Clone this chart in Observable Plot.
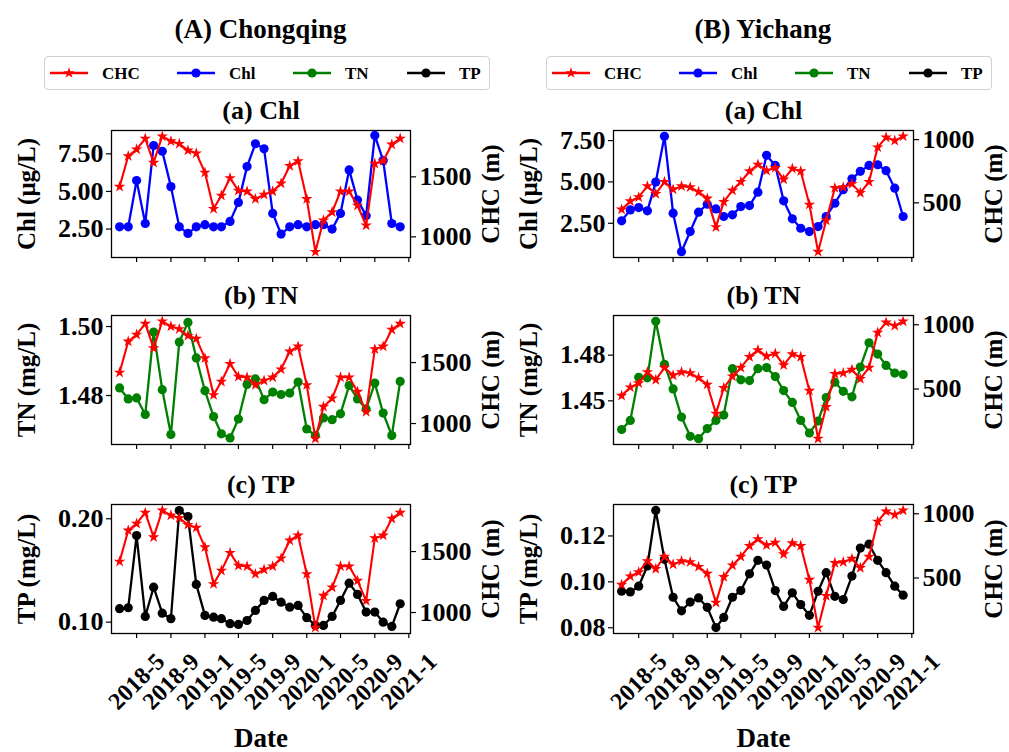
<!DOCTYPE html>
<html><head><meta charset="utf-8">
<script src="https://cdn.jsdelivr.net/npm/d3@7"></script>
<script src="https://cdn.jsdelivr.net/npm/@observablehq/plot@0.6"></script>
<style>
body{margin:0;background:#fff;}
#root{position:relative;width:1009px;height:752px;overflow:hidden;font-family:"Liberation Serif","Times New Roman",serif;font-weight:bold;color:#000;}
.title{position:absolute;font-size:27px;transform:translate(-50%,-50%);white-space:nowrap;}
.legend{position:absolute;top:56px;width:446px;height:34px;border:1px solid #d0d0d0;border-radius:4px;box-sizing:border-box;}
</style></head><body><div id="root"></div>
<script>
const months = ["2018-03","2018-04","2018-05","2018-06","2018-07","2018-08","2018-09","2018-10","2018-11","2018-12",
"2019-01","2019-02","2019-03","2019-04","2019-05","2019-06","2019-07","2019-08","2019-09","2019-10","2019-11","2019-12",
"2020-01","2020-02","2020-03","2020-04","2020-05","2020-06","2020-07","2020-08","2020-09","2020-10","2020-11","2020-12"];
const tickLabels = ["2018-5","2018-9","2019-1","2019-5","2019-9","2020-1","2020-5","2020-9","2021-1"];
const seriesNames = ["CHC","Chl","TN","TP"];
const seriesColors = ["red","blue","green","black"];

const chongqingCHC = [1418,1673,1729,1819,1618,1838,1797,1775,1720,1696,1536,1234,1344,1490,1385,1379,1316,1352,1379,1445,1591,1632,1316,876,1138,1206,1379,1379,1261,1096,1610,1632,1770,1819];
const chongqingChl = [2.65,2.65,5.72,2.87,8.05,7.67,5.32,2.65,2.21,2.65,2.79,2.65,2.65,3.01,4.27,6.65,8.17,7.83,3.54,2.17,2.65,2.79,2.65,2.79,2.79,2.50,3.54,6.43,4.43,3.39,8.72,7.05,2.87,2.65];
const chongqingTN = [1.4822,1.4790,1.4793,1.4745,1.4984,1.4817,1.4687,1.4955,1.5012,1.4909,1.4814,1.4739,1.4689,1.4677,1.4732,1.4832,1.4848,1.4788,1.4810,1.4803,1.4807,1.4839,1.4703,1.4684,1.4735,1.4730,1.4747,1.4829,1.4790,1.4761,1.4836,1.4749,1.4684,1.4841];
const chongqingTP = [0.1130,0.1139,0.1838,0.1055,0.1338,0.1087,0.1033,0.2080,0.2022,0.1365,0.1065,0.1048,0.1033,0.0985,0.0978,0.1016,0.1113,0.1210,0.1249,0.1193,0.1145,0.1162,0.1043,0.0968,0.0968,0.1055,0.1210,0.1377,0.1268,0.1097,0.1097,0.1000,0.0958,0.1178];

const yichangCHC = [448,513,545,632,571,666,606,632,624,587,535,308,508,598,666,750,803,755,776,685,771,750,487,114,361,618,624,650,579,666,939,1018,992,1026];
const yichangChl = [2.65,3.31,3.45,3.25,4.99,7.76,3.11,0.78,2.00,3.17,3.65,3.37,2.91,3.01,3.51,3.57,4.38,6.61,6.00,3.86,2.77,2.20,2.00,2.30,2.91,3.71,4.53,5.19,5.64,6.00,6.04,5.68,4.62,2.91];
const yichangTN = [1.4343,1.4393,1.4629,1.4626,1.4935,1.4700,1.4565,1.4411,1.4306,1.4293,1.4348,1.4393,1.4422,1.4676,1.4615,1.4611,1.4676,1.4682,1.4633,1.4556,1.4491,1.4393,1.4324,1.4389,1.4518,1.4602,1.4552,1.4522,1.4685,1.4818,1.4756,1.4694,1.4652,1.4644];
const yichangTP = [0.0959,0.0956,0.0981,0.1069,0.1311,0.1098,0.0933,0.0874,0.0912,0.0930,0.0889,0.0801,0.0845,0.0933,0.0962,0.1035,0.1094,0.1073,0.0962,0.0893,0.0952,0.0901,0.0854,0.0959,0.1040,0.0937,0.0923,0.1025,0.1147,0.1164,0.1094,0.1040,0.0981,0.0942];

const root = document.getElementById("root");
const parseM = d3.utcParse("%Y-%m");
const dates = months.map(parseM);
const tickDates = tickLabels.map(parseM);
const xDomain = [new Date(Date.UTC(2018,0,31)), new Date(Date.UTC(2021,0,7))];
const FONT = "Liberation Serif";

const sites = [
  {name:"(A) Chongqing", svgLeft:0, width:505, mL:111, mR:95, chc:chongqingCHC, chcDomain:[828,1886], chcTicks:[1000,1500],
   rows:[
     {vals:chongqingChl, domain:[0.61,9.05], ticks:[2.5,5,7.5]},
     {vals:chongqingTN, domain:[1.4658,1.5032], ticks:[1.48,1.50]},
     {vals:chongqingTP, domain:[0.089,0.2138], ticks:[0.10,0.20]}
   ]},
  {name:"(B) Yichang", svgLeft:505, width:504, mL:108, mR:96, chc:yichangCHC, chcDomain:[68,1072], chcTicks:[500,1000],
   rows:[
     {vals:yichangChl, domain:[0.43,8.11], ticks:[2.5,5,7.5]},
     {vals:yichangTN, domain:[1.4261,1.4967], ticks:[1.45,1.475]},
     {vals:yichangTP, domain:[0.0775,0.1337], ticks:[0.08,0.10,0.12]}
   ]}
];
const rowInfo = [
  {title:"(a) Chl", ylab:"Chl (μg/L)", top:130, h:127, color:"blue"},
  {title:"(b) TN", ylab:"TN (mg/L)", top:315, h:129, color:"green"},
  {title:"(c) TP", ylab:"TP (mg/L)", top:504, h:129, color:"black"}
];

sites.forEach(site => {
  const t = document.createElement("div");
  t.className = "title";
  t.textContent = site.name;
  t.style.left = (site.svgLeft + site.mL + (site.width - site.mL - site.mR)/2) + "px";
  t.style.top = "29px";
  root.appendChild(t);

  site.rows.forEach((row, r) => {
    const info = rowInfo[r];
    const last = r === 2;
    const mT = 40, mB = last ? 118 : 10;
    const [y0,y1] = row.domain, [c0,c1] = site.chcDomain;
    const toY = c => y0 + (c - c0)/(c1 - c0)*(y1 - y0);
    const fromY = y => c0 + (y - y0)/(y1 - y0)*(c1 - c0);
    const pts = dates.map((d,i) => ({date:d, v:row.vals[i], c:site.chc[i]}));
    const marks = [
      Plot.frame({stroke:"black", strokeWidth:1.3}),
      Plot.axisX({ticks:tickDates, tickFormat:() => "", tickSize:5, strokeWidth:1.2}),
      Plot.axisY({ticks:row.ticks, tickFormat:d3.format(".2f"), tickSize:5, tickPadding:3, fontSize:26, label:null, strokeWidth:1.2}),
      Plot.axisY({anchor:"right", ticks:site.chcTicks.map(toY), tickFormat:y => String(Math.round(fromY(y))), tickSize:5, tickPadding:4, fontSize:26, label:null, strokeWidth:1.2}),
      Plot.line(pts, {x:"date", y:"v", stroke:info.color, strokeWidth:2.3}),
      Plot.dot(pts, {x:"date", y:"v", fill:info.color, r:4.6}),
      Plot.line(pts, {x:"date", y:d => toY(d.c), stroke:"red", strokeWidth:2.1}),
      Plot.dot(pts, {x:"date", y:d => toY(d.c), fill:"red", symbol:"star", r:3.6}),
      Plot.text([info.title], {frameAnchor:"top", dy:-20, lineAnchor:"middle", fontSize:26}),
      Plot.text([info.ylab], {frameAnchor:"left", dx:-85, rotate:-90, textAnchor:"middle", lineAnchor:"middle", fontSize:25}),
      Plot.text(["CHC (m)"], {frameAnchor:"right", dx:80, rotate:-90, textAnchor:"middle", lineAnchor:"middle", fontSize:25})
    ];
    if (last) {
      marks.push(Plot.text(tickDates, {x:d => d, text:(d,i) => tickLabels[i], frameAnchor:"bottom", rotate:-45, textAnchor:"middle", lineAnchor:"middle", dy:48, fontSize:24}));
      marks.push(Plot.text(["Date"], {frameAnchor:"bottom", dy:105, lineAnchor:"middle", fontSize:27}));
    }
    const svg = Plot.plot({
      width: site.width, height: mT + info.h + mB,
      marginLeft: site.mL, marginRight: site.mR, marginTop: mT, marginBottom: mB,
      x: {type:"utc", domain:xDomain},
      y: {domain:row.domain},
      style: {fontFamily:FONT, fontWeight:"bold", fontSize:"24px", background:"transparent", overflow:"visible", color:"black"},
      marks
    });
    svg.style.position = "absolute";
    svg.style.left = site.svgLeft + "px";
    svg.style.top = (info.top - mT) + "px";
    root.appendChild(svg);
  });

  const lg = document.createElement("div");
  lg.className = "legend";
  const boxLeft = site.svgLeft === 0 ? 44 : 546;
  lg.style.left = boxLeft + "px";
  const ns = "http://www.w3.org/2000/svg";
  const s = document.createElementNS(ns, "svg");
  s.setAttribute("width", 446); s.setAttribute("height", 34);
  s.style.position = "absolute"; s.style.left = "-1px"; s.style.top = "-1px";
  const itemX = [6, 133, 249, 363];
  seriesNames.forEach((name, k) => {
    const x = itemX[k];
    const line = document.createElementNS(ns, "line");
    line.setAttribute("x1", x); line.setAttribute("x2", x + 38);
    line.setAttribute("y1", 17); line.setAttribute("y2", 17);
    line.setAttribute("stroke", seriesColors[k]); line.setAttribute("stroke-width", 2.3);
    s.appendChild(line);
    const p = document.createElementNS(ns, "path");
    const sym = k === 0 ? d3.symbol(d3.symbolStar, 3.6*3.6*Math.PI) : d3.symbol(d3.symbolCircle, 4.6*4.6*Math.PI);
    p.setAttribute("d", sym());
    p.setAttribute("transform", `translate(${x + 19},17)`);
    p.setAttribute("fill", seriesColors[k]);
    s.appendChild(p);
    const tx = document.createElementNS(ns, "text");
    tx.setAttribute("x", x + 52); tx.setAttribute("y", 23);
    tx.setAttribute("font-family", FONT); tx.setAttribute("font-weight", "bold");
    tx.setAttribute("font-size", 17);
    tx.textContent = name;
    s.appendChild(tx);
  });
  lg.appendChild(s);
  root.appendChild(lg);
});
</script>
</body></html>
